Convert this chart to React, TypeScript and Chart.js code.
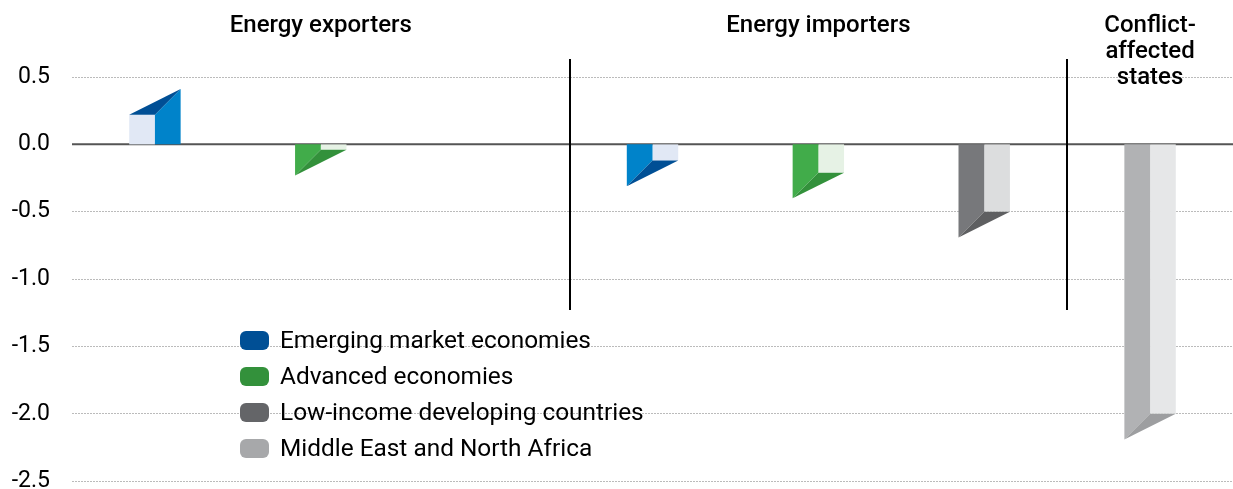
import React, { useEffect, useRef } from "react";
import { Chart, registerables } from "chart.js";

Chart.register(...registerables);

const categories = [
  "EM exporters",
  "AE exporters",
  "",
  "EM importers",
  "AE importers",
  "LIC importers",
  "Conflict-affected",
];
const groupLabels: string[][] = [
  ["Energy exporters"],
  ["Energy importers"],
  ["Conflict-", "affected", "states"],
];
const groupSpans = [
  [0, 2],
  [3, 5],
  [6, 6],
];
const seriesNames = [
  "Emerging market economies",
  "Advanced economies",
  "Low-income developing countries",
  "Middle East and North Africa",
];
const emValues = [0.22, null, null, -0.12, null, null, null];
const aeValues = [null, -0.04, null, null, -0.21, null, null];
const licValues = [null, null, null, null, null, -0.5, null];
const menaValues = [null, null, null, null, null, null, -2.0];
const yTicks = [0.5, 0.0, -0.5, -1.0, -1.5, -2.0, -2.5];

// [light face, medium side, dark cap, legend]
const palettes = [
  ["#E1E8F5", "#0083CA", "#004F95", "#004F95"],
  ["#E6F2E5", "#41AC4A", "#33913B", "#33913B"],
  ["#DCDDDE", "#77787B", "#5E5F61", "#646568"],
  ["#E6E7E8", "#B1B2B4", "#9D9EA0", "#A7A8AA"],
];

const FONT = "Roboto, 'Noto Sans', sans-serif";
const W = 1233;
const H = 489;
const CANVAS_H = 517;

const bars3d = {
  id: "bars3d",
  afterDatasetsDraw(chart: any) {
    const ctx = chart.ctx;
    const y0 = chart.scales.y.getPixelForValue(0);
    chart.data.datasets.forEach((ds: any, di: number) => {
      const meta = chart.getDatasetMeta(di);
      const pal = palettes[di];
      meta.data.forEach((el: any, i: number) => {
        const v = ds.data[i];
        if (v === null || v === undefined) return;
        const x = el.x;
        const y = el.y;
        const h = el.width / 2;
        ctx.save();
        if (v >= 0) {
          ctx.fillStyle = pal[0];
          ctx.fillRect(x - h, y, h, y0 - y);
          ctx.fillStyle = pal[1];
          ctx.beginPath();
          ctx.moveTo(x, y0);
          ctx.lineTo(x + h, y0);
          ctx.lineTo(x + h, y - h);
          ctx.lineTo(x, y);
          ctx.closePath();
          ctx.fill();
          ctx.fillStyle = pal[2];
          ctx.beginPath();
          ctx.moveTo(x - h, y);
          ctx.lineTo(x, y);
          ctx.lineTo(x + h, y - h);
          ctx.closePath();
          ctx.fill();
        } else {
          ctx.fillStyle = pal[0];
          ctx.fillRect(x, y0, h, y - y0);
          ctx.fillStyle = pal[1];
          ctx.beginPath();
          ctx.moveTo(x - h, y0);
          ctx.lineTo(x, y0);
          ctx.lineTo(x, y);
          ctx.lineTo(x - h, y + h);
          ctx.closePath();
          ctx.fill();
          ctx.fillStyle = pal[2];
          ctx.beginPath();
          ctx.moveTo(x - h, y + h);
          ctx.lineTo(x, y);
          ctx.lineTo(x + h, y);
          ctx.closePath();
          ctx.fill();
        }
        ctx.restore();
      });
    });
  },
};

const decorations = {
  id: "decorations",
  beforeDatasetsDraw(chart: any) {
    const ctx = chart.ctx;
    const ys = chart.scales.y;
    const area = chart.chartArea;
    const y0 = ys.getPixelForValue(0);
    ctx.save();
    ctx.strokeStyle = "#555555";
    ctx.lineWidth = 2;
    ctx.beginPath();
    ctx.moveTo(area.left, y0);
    ctx.lineTo(area.right, y0);
    ctx.stroke();
    ctx.restore();
  },
  afterDatasetsDraw(chart: any) {
    const ctx = chart.ctx;
    const xs = chart.scales.x;
    const ys = chart.scales.y;
    const step = xs.getPixelForValue(1) - xs.getPixelForValue(0);
    ctx.save();
    ctx.strokeStyle = "#000000";
    ctx.lineWidth = 2;
    const sepTop = ys.getPixelForValue(0.5) - 18;
    const sepBottom = ys.getPixelForValue(-1.23);
    [3, 6].forEach((idx) => {
      const sx = Math.round(xs.getPixelForValue(idx) - step / 2);
      ctx.beginPath();
      ctx.moveTo(sx, sepTop);
      ctx.lineTo(sx, sepBottom);
      ctx.stroke();
    });
    ctx.fillStyle = "#000000";
    ctx.font = `500 24px ${FONT}`;
    ctx.textAlign = "center";
    ctx.textBaseline = "alphabetic";
    groupSpans.forEach((span, gi) => {
      const left = xs.getPixelForValue(span[0]) - step / 2;
      const right = Math.min(xs.getPixelForValue(span[1]) + step / 2, chart.width);
      const cx = (left + right) / 2;
      groupLabels[gi].forEach((line, li) => {
        ctx.fillText(line, cx, 32 + li * 26);
      });
    });
    ctx.restore();
  },
};

export default function App() {
  const canvasRef = useRef<HTMLCanvasElement | null>(null);

  useEffect(() => {
    document.body.style.margin = "0";
    document.body.style.overflow = "hidden";
    const canvas = canvasRef.current;
    if (!canvas) return;
    const allSeries = [emValues, aeValues, licValues, menaValues];
    const chart = new Chart(canvas, {
      type: "bar",
      data: {
        labels: categories,
        datasets: allSeries.map((vals, i) => ({
          label: seriesNames[i],
          data: vals,
          backgroundColor: "rgba(0,0,0,0)",
          borderWidth: 0,
          barPercentage: 0.31,
          categoryPercentage: 1,
          skipNull: true,
        })),
      },
      options: {
        animation: false,
        responsive: false,
        maintainAspectRatio: false,
        layout: { padding: { top: 77, bottom: 0, left: 0, right: 0 } },
        plugins: {
          legend: { display: false },
          tooltip: { enabled: false },
        },
        scales: {
          x: {
            display: false,
            grid: { display: false },
          },
          y: {
            min: -2.5,
            max: 0.5,
            afterFit(scale: any) {
              scale.width = 72;
            },
            afterBuildTicks(scale: any) {
              scale.ticks = yTicks.map((v) => ({ value: v }));
            },
            border: { display: false, dash: [2, 1] },
            grid: {
              drawTicks: false,
              color: (c: any) => (c.tick && c.tick.value === 0 ? "rgba(0,0,0,0)" : "#BBBBBB"),
              lineWidth: 1,
            },
            ticks: {
              padding: 22,
              color: "#000000",
              font: { family: FONT, size: 23 },
              callback: (v: any) => Number(v).toFixed(1),
            },
          },
        },
      },
      plugins: [decorations, bars3d],
    } as any);
    return () => chart.destroy();
  }, []);

  return (
    <div style={{ position: "relative", width: W, height: H, overflow: "hidden" }}>
      <canvas ref={canvasRef} width={W} height={CANVAS_H} style={{ display: "block" }} />
      <div
        style={{
          position: "absolute",
          left: 240,
          top: 322,
          fontFamily: FONT,
          fontSize: 24.4,
          color: "#000",
          lineHeight: "36px",
        }}
      >
        {seriesNames.map((n, i) => (
          <div key={n} style={{ display: "flex", alignItems: "center", whiteSpace: "nowrap" }}>
            <span
              style={{
                display: "inline-block",
                width: 29,
                height: 19,
                borderRadius: 6,
                background: palettes[i][3],
                marginRight: 11,
              }}
            />
            <span>{n}</span>
          </div>
        ))}
      </div>
    </div>
  );
}
